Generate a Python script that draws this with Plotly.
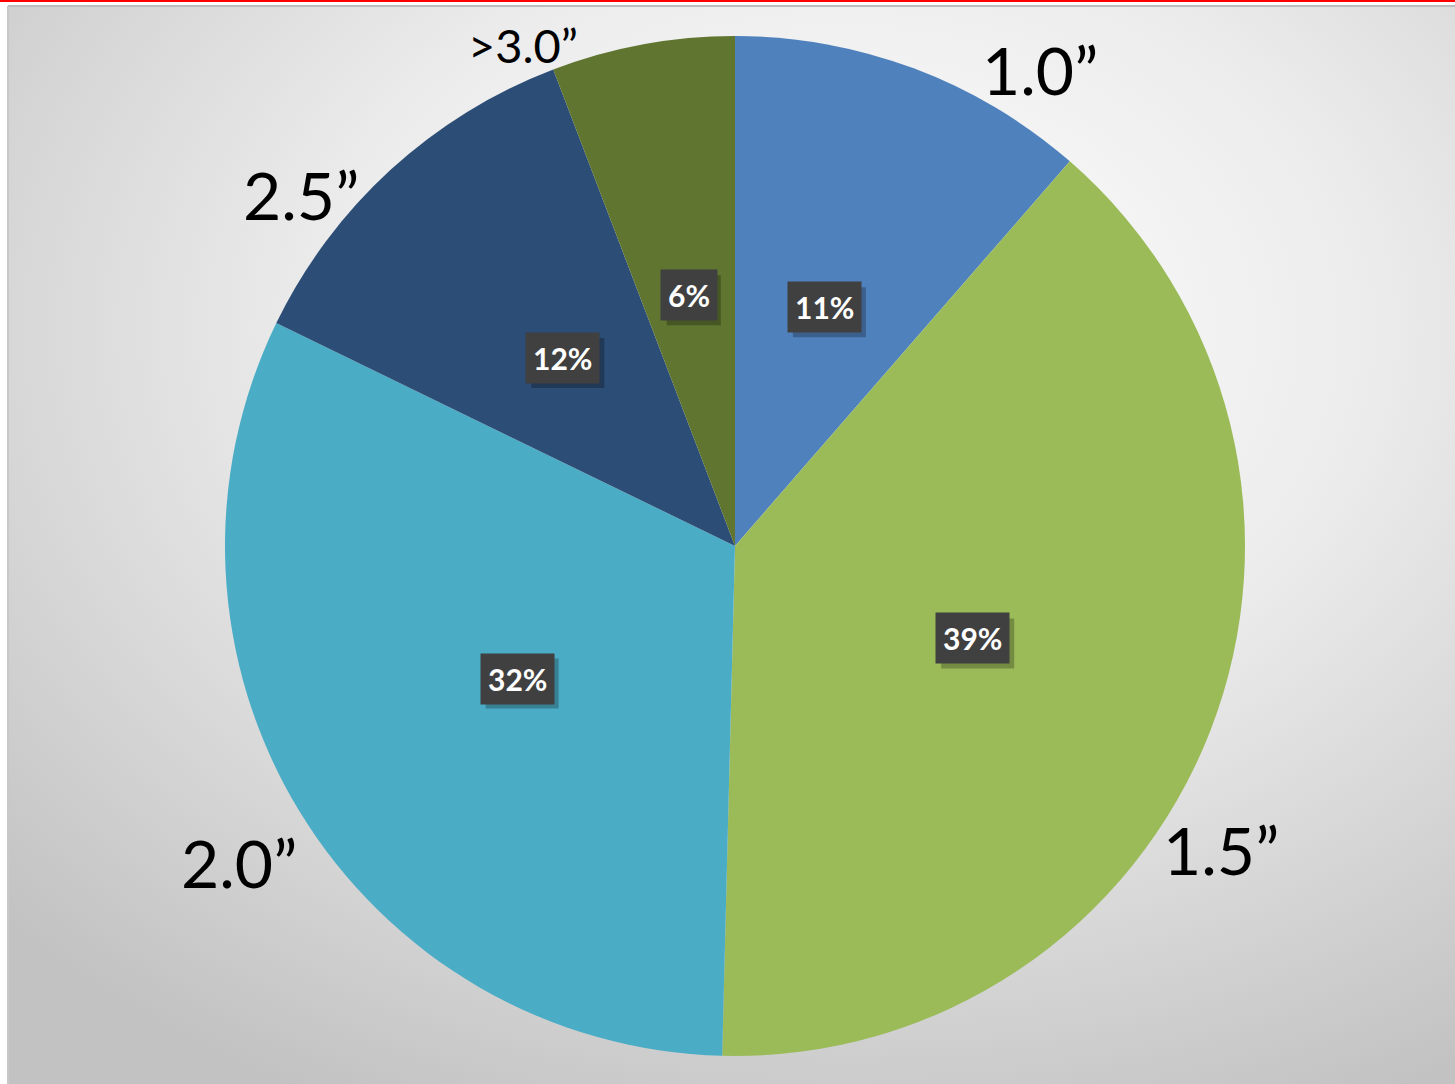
import math
import base64
import plotly.graph_objects as go

# ---- data ----
categories = ["1.0\u201d", "1.5\u201d", "2.0\u201d", "2.5\u201d", ">3.0\u201d"]
values = [11.4, 39.0, 31.8, 12.0, 5.8]
colors = ["#4F81BD", "#9BBB59", "#4BACC6", "#2C4D75", "#5F7530"]

# ---- layout config ----
W, H = 1455, 1084
DOM_X = [0.15464, 0.85567]
DOM_Y = [0.02583, 0.96679]
FONT = "Lato"
label_sizes = [66, 66, 66, 66, 47]
label_nudge = [8.5, 11.5, -2.0, -7.0, -7.0]  # degrees, placement tweak of outside labels
label_shift = [(-3, -13), (-5, 15), (-8, 6), (15, -23), (-2, -17)]  # px tweak
CHAR_W, PAD_W, BOX_H, SHADOW = 19, 16, 50, 5

cx = (DOM_X[0] + DOM_X[1]) / 2 * W
cy = (1 - (DOM_Y[0] + DOM_Y[1]) / 2) * H
R = min((DOM_X[1] - DOM_X[0]) * W, (DOM_Y[1] - DOM_Y[0]) * H) / 2


def to_px(r, theta_deg):
    t = math.radians(theta_deg)
    return cx + r * math.sin(t), cy - r * math.cos(t)


def to_paper(r, theta_deg):
    x, y = to_px(r, theta_deg)
    return x / W, 1 - y / H


total = sum(values)
mids = []
acc = 0.0
for v in values:
    mids.append((acc + v / 2) / total * 360)
    acc += v

fig = go.Figure(
    go.Pie(
        labels=categories,
        values=values,
        marker=dict(colors=colors, line=dict(width=0)),
        sort=False,
        direction="clockwise",
        rotation=0,
        textinfo="none",
        hoverinfo="label+percent",
        showlegend=False,
        domain=dict(x=DOM_X, y=DOM_Y),
    )
)

annotations = []
shapes = [
    dict(type="line", xref="paper", yref="paper", x0=0, x1=1, y0=1 - 1 / H, y1=1 - 1 / H,
         line=dict(color="#ff0000", width=2)),
    dict(type="line", xref="paper", yref="paper", x0=8 / W, x1=1, y0=1 - 6 / H, y1=1 - 6 / H,
         line=dict(color="#bdbdbd", width=2)),
    dict(type="line", xref="paper", yref="paper", x0=8 / W, x1=8 / W, y0=0, y1=1 - 6 / H,
         line=dict(color="#c8c8c8", width=2)),
]

# percent boxes (with drop shadow)
for v, m in zip(values, mids):
    px, py = to_px(0.5 * R, m)
    txt = f"{round(v / total * 100)}%"
    bw = CHAR_W * len(txt) + PAD_W
    sx0, sx1 = px - bw / 2 + SHADOW, px + bw / 2 + SHADOW
    sy0, sy1 = py - BOX_H / 2 + SHADOW, py + BOX_H / 2 + SHADOW
    shapes.append(dict(
        type="rect", xref="paper", yref="paper", layer="above",
        x0=sx0 / W, x1=sx1 / W, y0=1 - sy1 / H, y1=1 - sy0 / H,
        fillcolor="rgba(0,0,0,0.25)", line=dict(width=0),
    ))
    annotations.append(dict(
        x=px / W, y=1 - py / H, xref="paper", yref="paper", text=txt, showarrow=False,
        xanchor="center", yanchor="middle",
        font=dict(family=FONT, size=30, color="white", weight="bold"),
        bgcolor="#404040", borderpad=7,
    ))

# outside category labels
for cat, m, nud, fs, (sx, sy) in zip(categories, mids, label_nudge, label_sizes, label_shift):
    ang = (m + nud) % 360
    px, py = to_paper(R + 2, ang)
    xa = "left" if ang < 180 else "right"
    ya = "bottom" if (ang < 90 or ang > 270) else "top"
    annotations.append(dict(
        x=px, y=py, xref="paper", yref="paper", text=cat, showarrow=False,
        xanchor=xa, yanchor=ya, xshift=sx, yshift=sy,
        font=dict(family=FONT, size=fs, color="black"),
    ))

svg = f'''<svg xmlns="http://www.w3.org/2000/svg" width="{W}" height="{H}" viewBox="0 0 {W} {H}" preserveAspectRatio="none">
<defs><radialGradient id="g" cx="0.58" cy="0.3" r="0.8">
<stop offset="0" stop-color="#ffffff"/><stop offset="0.45" stop-color="#ececec"/><stop offset="1" stop-color="#c2c2c2"/>
</radialGradient></defs>
<rect x="0" y="0" width="{W}" height="{H}" fill="url(#g)"/></svg>'''
src = "data:image/svg+xml;base64," + base64.b64encode(svg.encode()).decode()

fig.update_layout(
    width=W, height=H,
    margin=dict(l=0, r=0, t=0, b=0),
    paper_bgcolor="white",
    font=dict(family=FONT),
    annotations=annotations,
    images=[dict(source=src, xref="paper", yref="paper", x=8 / W, y=1 - 6 / H,
                 sizex=1 - 8 / W, sizey=1 - 6 / H, xanchor="left", yanchor="top",
                 sizing="stretch", layer="below")],
    shapes=shapes,
)

fig.write_html("out.html", config={"displayModeBar": False},
               post_script="document.body.style.margin='0';")
